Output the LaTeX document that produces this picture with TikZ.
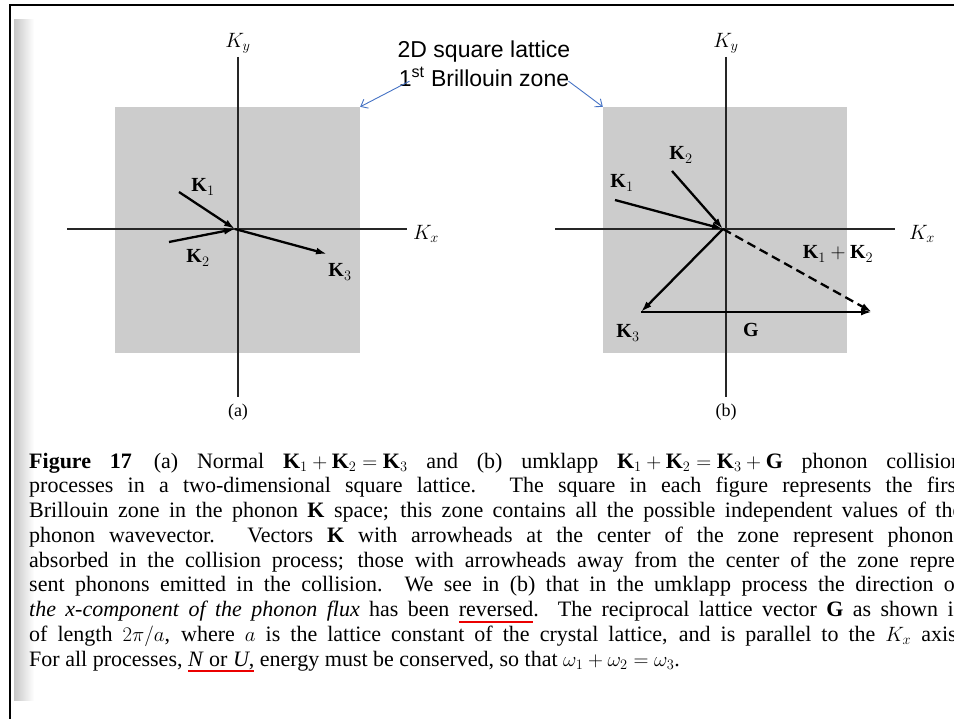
\documentclass[tikz,border=0pt]{standalone}
\usepackage{fontspec}
\setmainfont{Liberation Serif}
\newfontfamily\notefont{Liberation Sans}
\usetikzlibrary{arrows.meta,calc,positioning}
\definecolor{zonegrey}{RGB}{204,204,204}
\definecolor{noteblue}{RGB}{68,114,196}
\definecolor{markred}{RGB}{235,0,0}
\newcommand\redmark[1]{\sbox0{#1}\rlap{\color{markred}\rule[-6pt]{\wd0}{1.6pt}}\usebox0}

\tikzset{
  vec/.style={line width=2.3pt, -{Latex[length=11pt,width=7pt]}},
  axisline/.style={line width=1.1pt, black!85},
  zone/.style={fill=zonegrey, draw=none, inner sep=0pt},
  klabel/.style={font=\fontsize{20}{24}\selectfont, inner sep=1pt},
  capline/.style={anchor=base west, inner sep=0pt, font=\fontsize{22}{25}\selectfont},
  pointer/.style={noteblue, line width=0.9pt, -{Straight Barb[length=6pt,width=10pt]}}
}

\begin{document}
\begin{tikzpicture}[x=1pt,y=-1pt]
    \useasboundingbox (0,0) rectangle (954,719);
    \clip (0,0) rectangle (954,719);

    % 1. frame and scanned page edge
    \fill[left color=black!22, right color=white] (14,20) rectangle (34,700);
    \draw[line width=2.5pt] (10,730) -- (10,5) -- (965,5);

    % 2. panel (a): normal process
    \node[zone, minimum width=245pt, minimum height=246pt] (bza) at (237.5,230) {};
    \draw[axisline] (238,57) -- (238,397);
    \draw[axisline] (67,229) -- (407,229);
    \node[klabel] (kya) at (238,43) {$K_y$};
    \node[klabel] (kxa) at (426,234) {$K_x$};

    \coordinate (oa) at (235,229);
    \coordinate (k1a) at (179,192);
    \coordinate (k2a) at (169,242);
    \coordinate (k3a) at (327,254);
    \draw[vec] (k1a) -- (oa);
    \draw[vec] (k2a) -- (oa);
    \draw[vec] (oa) -- (k3a);
    \node[klabel] (l1a) at (203,187) {$\mathbf{K}_1$};
    \node[klabel] (l2a) at (198,258) {$\mathbf{K}_2$};
    \node[klabel] (l3a) at (340,272) {$\mathbf{K}_3$};
    \node[klabel, font=\fontsize{18}{22}\selectfont] (capa) at (238,412) {(a)};

    % 3. panel (b): umklapp process
    \node[zone, minimum width=244pt, minimum height=246pt] (bzb) at (725,230) {};
    \draw[axisline] (726,57) -- (726,397);
    \draw[axisline] (555,229) -- (895,229);
    \node[klabel] (kyb) at (726,43) {$K_y$};
    \node[klabel] (kxb) at (922,234) {$K_x$};

    \coordinate (ob) at (723,229);
    \coordinate (k1b) at (615,200);
    \coordinate (k2b) at (672,171);
    \coordinate (sumb) at (872,312);
    \coordinate (k3b) at (641,312);
    \draw[vec] (k1b) -- (ob);
    \draw[vec] (k2b) -- (ob);
    \draw[vec, dash pattern=on 9pt off 5pt] (ob) -- (sumb);
    \draw[vec] (ob) -- (k3b);
    \draw[vec] (k3b) -- (sumb);
    \node[klabel] (l2b) at (681,155) {$\mathbf{K}_2$};
    \node[klabel] (l1b) at (622,183) {$\mathbf{K}_1$};
    \node[klabel] (lsb) at (838,254) {$\mathbf{K}_1 + \mathbf{K}_2$};
    \node[klabel] (l3b) at (628,333) {$\mathbf{K}_3$};
    \node[klabel] (lgb) at (751,330) {$\mathbf{G}$};
    \node[klabel, font=\fontsize{18}{22}\selectfont] (capb) at (726,412) {(b)};

    % 4. note pointing at both zones
    \node[font=\notefont\fontsize{23}{29}\selectfont, align=center, inner sep=2pt] (note) at (484,64)
        {2D square lattice\\1\textsuperscript{st} Brillouin zone};
    \draw[pointer] ([shift={(14,-8)}]note.south west) -- (bza.north east);
    \draw[pointer] ([shift={(-4,-8)}]note.south east) -- (bzb.north west);

    % 5. caption of the scanned figure
    \node[capline] (cap1) at (29,468) {\makebox[933pt][s]{\textbf{Figure 17}\quad (a) Normal ${\mathbf{K}_1+\mathbf{K}_2=\mathbf{K}_3}$ and (b) umklapp ${\mathbf{K}_1+\mathbf{K}_2=\mathbf{K}_3+\mathbf{G}}$ phonon collision}};
    \node[capline] (cap2) at (29,492.75) {\makebox[933pt][s]{processes in a two-dimensional square lattice. The square in each figure represents the first}};
    \node[capline] (cap3) at (29,517.5) {\makebox[933pt][s]{Brillouin zone in the phonon $\mathbf{K}$ space; this zone contains all the possible independent values of the}};
    \node[capline] (cap4) at (29,542.25) {\makebox[933pt][s]{phonon wavevector. Vectors $\mathbf{K}$ with arrowheads at the center of the zone represent phonons}};
    \node[capline] (cap5) at (29,567) {\makebox[933pt][s]{absorbed in the collision process; those with arrowheads away from the center of the zone repre-}};
    \node[capline] (cap6) at (29,591.75) {\makebox[933pt][s]{sent phonons emitted in the collision. We see in (b) that in the umklapp process the direction of}};
    \node[capline] (cap7) at (29,616.5) {\makebox[933pt][s]{\textit{the x-component of the phonon flux} has been \redmark{reversed}. The reciprocal lattice vector $\mathbf{G}$ as shown is}};
    \node[capline] (cap8) at (29,641.25) {\makebox[933pt][s]{of length ${2\pi/a}$, where $a$ is the lattice constant of the crystal lattice, and is parallel to the $K_x$ axis.}};
    \node[capline] (cap9) at (29,666) {For all processes, \redmark{\textit{N} or \textit{U},} energy must be conserved, so that ${\omega_1+\omega_2=\omega_3}$.};

\end{tikzpicture}
\end{document}
